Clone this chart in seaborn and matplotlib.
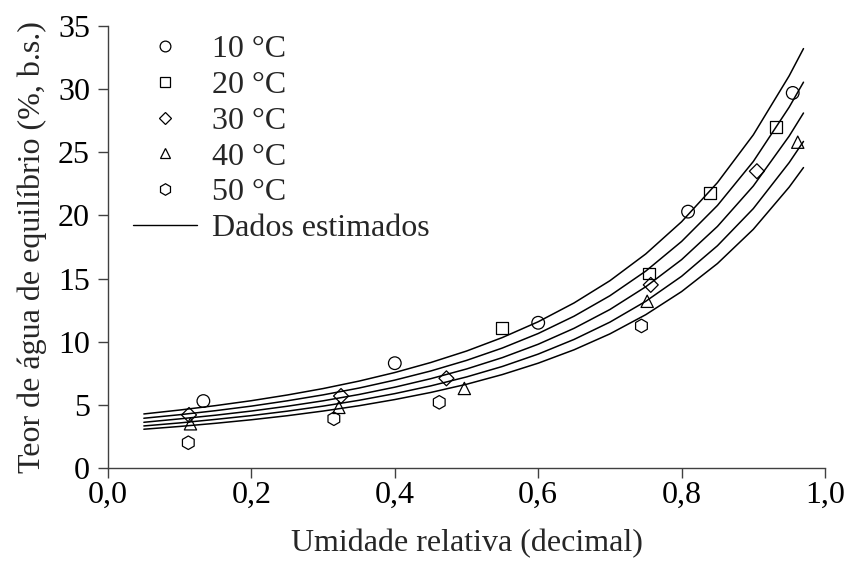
import matplotlib
matplotlib.use("Agg")
import matplotlib.pyplot as plt
from matplotlib.lines import Line2D
from matplotlib.ticker import FuncFormatter
import seaborn as sns
import pandas as pd

temps = ["10 °C", "20 °C", "30 °C", "40 °C", "50 °C"]
obs_x = {
    "10 °C": [0.133, 0.400, 0.600, 0.809, 0.955],
    "20 °C": [0.550, 0.755, 0.840, 0.932],
    "30 °C": [0.113, 0.325, 0.472, 0.757, 0.905],
    "40 °C": [0.115, 0.322, 0.497, 0.752, 0.962],
    "50 °C": [0.112, 0.315, 0.462, 0.744],
}
obs_y = {
    "10 °C": [5.3, 8.3, 11.5, 20.3, 29.7],
    "20 °C": [11.1, 15.4, 21.75, 27.0],
    "30 °C": [4.2, 5.7, 7.1, 14.5, 23.5],
    "40 °C": [3.5, 4.8, 6.3, 13.2, 25.8],
    "50 °C": [2.0, 3.9, 5.2, 11.25],
}

# ---- estimated curves ----
curve_x = [0.05, 0.10, 0.15, 0.20, 0.25, 0.30, 0.35, 0.40, 0.45, 0.50,
           0.55, 0.60, 0.65, 0.70, 0.75, 0.80, 0.85, 0.90, 0.95, 0.97]
curve_y = {
    "10 °C": [4.28, 4.59, 4.94, 5.33, 5.78, 6.29, 6.88, 7.56, 8.35, 9.26,
              10.33, 11.58, 13.07, 14.83, 16.95, 19.50, 22.60, 26.38, 31.05, 33.21],
    "20 °C": [3.94, 4.22, 4.54, 4.90, 5.32, 5.79, 6.33, 6.96, 7.68, 8.52,
              9.50, 10.65, 12.02, 13.64, 15.59, 17.94, 20.79, 24.27, 28.57, 30.55],
    "30 °C": [3.62, 3.89, 4.18, 4.51, 4.89, 5.32, 5.82, 6.40, 7.07, 7.84,
              8.74, 9.80, 11.06, 12.55, 14.35, 16.50, 19.13, 22.33, 26.28, 28.11],
    "40 °C": [3.33, 3.57, 3.85, 4.15, 4.50, 4.90, 5.36, 5.89, 6.50, 7.21,
              8.04, 9.02, 10.18, 11.55, 13.20, 15.18, 17.60, 20.54, 24.18, 25.86],
    "50 °C": [3.07, 3.29, 3.54, 3.82, 4.14, 4.51, 4.93, 5.42, 5.98, 6.63,
              7.40, 8.30, 9.36, 10.62, 12.14, 13.97, 16.19, 18.90, 22.24, 23.79],
}

x_ticks = [0.0, 0.2, 0.4, 0.6, 0.8, 1.0]
y_ticks = [0, 5, 10, 15, 20, 25, 30, 35]
xlabel = "Umidade relativa (decimal)"
ylabel = "Teor de água de equilíbrio (%, b.s.)"
line_label = "Dados estimados"

markers = {"10 °C": "o", "20 °C": "s", "30 °C": "D", "40 °C": "^", "50 °C": "h"}
msize = {"10 °C": 83, "20 °C": 72, "30 °C": 58, "40 °C": 78, "50 °C": 95}

FS = 23

sns.set_style("ticks")
plt.rcParams["font.family"] = ["Liberation Serif", "DejaVu Serif"]

fig = plt.figure(figsize=(8.45, 5.74), dpi=100)
ax = fig.add_axes([108 / 845, 1 - 468 / 574, (825 - 108) / 845, (468 - 26) / 574])

curves = pd.DataFrame(
    [(t, x, y) for t in temps for x, y in zip(curve_x, curve_y[t])],
    columns=["temp", "x", "y"],
)
sns.lineplot(data=curves, x="x", y="y", units="temp", estimator=None,
             color="black", linewidth=1.1, ax=ax, legend=False, sort=False)

for t in temps:
    df = pd.DataFrame({"x": obs_x[t], "y": obs_y[t]})
    sns.scatterplot(data=df, x="x", y="y", marker=markers[t], s=msize[t],
                    facecolors="none", edgecolor="black", linewidth=0.9,
                    ax=ax, legend=False)

ax.set_xlim(0, 1.0)
ax.set_ylim(0, 35)
ax.set_xticks(x_ticks)
ax.set_yticks(y_ticks)
ax.xaxis.set_major_formatter(FuncFormatter(lambda v, p: f"{v:.1f}".replace(".", ",")))
ax.yaxis.set_major_formatter(FuncFormatter(lambda v, p: f"{int(round(v))}"))
ax.tick_params(axis="both", direction="out", length=7, width=1.0,
               color="#404040", labelsize=FS, labelcolor="black")
ax.tick_params(axis="x", pad=2)
ax.tick_params(axis="y", pad=6)
for side in ["top", "right"]:
    ax.spines[side].set_visible(False)
for side in ["left", "bottom"]:
    ax.spines[side].set_color("#404040")
    ax.spines[side].set_linewidth(1.0)

ax.set_xlabel(xlabel, fontsize=FS, labelpad=14)
ax.set_ylabel(ylabel, fontsize=FS, labelpad=8)

handles = []
for t in temps:
    handles.append(Line2D([], [], linestyle="none", marker=markers[t],
                          markersize=msize[t] ** 0.5 * 0.85,
                          markerfacecolor="none", markeredgecolor="black",
                          markeredgewidth=0.9, label=t))
handles.append(Line2D([], [], color="black", linewidth=1.0, label=line_label))
fig.legend(handles=handles, loc="upper left",
           bbox_to_anchor=(133 / 845, 1 - 35 / 574), bbox_transform=fig.transFigure,
           frameon=False, fontsize=FS, handlelength=2.0, handletextpad=0.48,
           labelspacing=0.2, borderpad=0, borderaxespad=0)

fig.savefig("out.png", dpi=100)
